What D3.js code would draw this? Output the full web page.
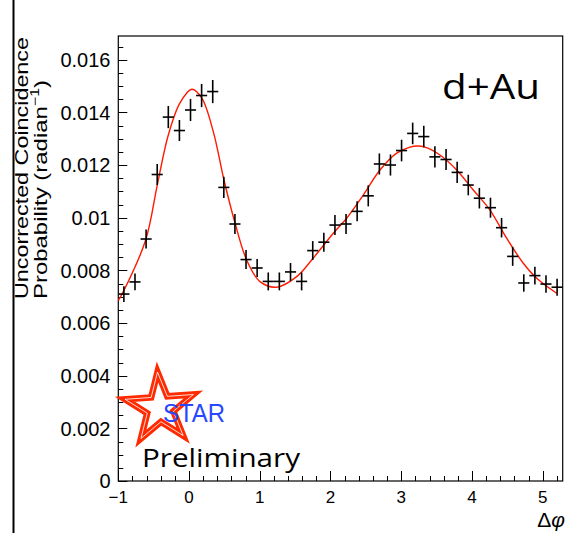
<!DOCTYPE html>
<html><head><meta charset="utf-8">
<script src="https://cdn.jsdelivr.net/npm/d3@7"></script>
<style>
html,body{margin:0;padding:0;background:#fff;}
svg{display:block;}
</style></head>
<body>
<svg id="chart" width="568" height="533"></svg>
<script>
// ---- data ----
const dphi = [-0.921,-0.764,-0.607,-0.450,-0.293,-0.136,0.021,0.178,0.335,0.492,
  0.649,0.806,0.963,1.120,1.277,1.435,1.592,1.749,1.906,2.063,
  2.220,2.377,2.534,2.691,2.848,3.005,3.162,3.319,3.476,3.634,
  3.791,3.948,4.105,4.262,4.419,4.576,4.733,4.890,5.047,5.204];
const prob = [0.00710,0.00756,0.00919,0.01164,0.01382,0.01331,0.01409,0.01464,0.01479,0.01115,
  0.00976,0.00841,0.00809,0.00758,0.00758,0.00794,0.00758,0.00875,0.00907,0.00972,
  0.00976,0.01024,0.01083,0.01204,0.01200,0.01255,0.01320,0.01308,0.01231,0.01221,
  0.01172,0.01124,0.01074,0.01038,0.00962,0.00853,0.00752,0.00780,0.00748,0.00736];
const probErr = [0.00030,0.00032,0.00036,0.00040,0.00042,0.00040,0.00042,0.00044,0.00044,0.00040,
  0.00038,0.00036,0.00034,0.00034,0.00034,0.00034,0.00034,0.00036,0.00036,0.00038,
  0.00038,0.00038,0.00040,0.00040,0.00040,0.00041,0.00041,0.00041,0.00040,0.00040,
  0.00040,0.00039,0.00039,0.00038,0.00037,0.00036,0.00033,0.00034,0.00033,0.00032];
const binHalfWidth = 0.0785;
// fit curve
const fitX = [-1.0,-0.929,-0.613,-0.449,-0.293,-0.128,0.038,0.179,0.343,0.494,0.650,0.815,1.003,1.240,
  1.522,1.757,2.040,2.229,2.464,2.700,2.936,3.124,3.230,3.336,3.548,3.784,4.019,4.255,4.491,4.726,4.916,5.198];
const fitY = [0.00685,0.00719,0.00915,0.01124,0.01314,0.01436,0.01488,0.01455,0.01327,0.01143,0.00980,0.00839,0.00757,0.00736,
  0.00776,0.00847,0.00941,0.00998,0.01086,0.01181,0.01245,0.01268,0.01272,0.01268,0.01238,0.01181,0.01105,0.01029,0.00922,0.00827,0.00770,0.00713];
const xMajorTicks = [-1,0,1,2,3,4,5];
const xTickLabels = ["\u22121","0","1","2","3","4","5"];
const yMajorTicks = [0,0.002,0.004,0.006,0.008,0.010,0.012,0.014,0.016];
const yTickLabels = ["0","0.002","0.004","0.006","0.008","0.01","0.012","0.014","0.016"];

const svg = d3.select("#chart");
const X0 = 118.3, X1 = 562.7, Y0 = 481, Y1 = 36;
const x = d3.scaleLinear().domain([-1, 2*Math.PI - 1]).range([X0, X1]);
const y = d3.scaleLinear().domain([0, 0.0169]).range([Y0, Y1]);
const helv = "'Liberation Sans', Arial, Helvetica, sans-serif";
const cal = "'Open Sans', Lato, sans-serif";

// slide border line at left
svg.append("line").attr("x1",13.5).attr("x2",13.5).attr("y1",0).attr("y2",533)
  .attr("stroke","#000").attr("stroke-width",2);

// frame
svg.append("rect").attr("x",X0).attr("y",Y1).attr("width",X1-X0).attr("height",Y0-Y1)
  .attr("fill","none").attr("stroke","#000").attr("stroke-width",1.2);

// y axis ticks (inside)
const yMinor = d3.range(0, 0.0169, 0.0005);
svg.append("g").selectAll("line").data(yMinor).join("line")
  .attr("x1",X0).attr("x2",d => X0 + (Math.abs(d/0.002 - Math.round(d/0.002))<1e-6 ? 9 : 5))
  .attr("y1",d=>Math.round(y(d))+0.5).attr("y2",d=>Math.round(y(d))+0.5)
  .attr("stroke","#000").attr("stroke-width",1);
svg.append("g").selectAll("text").data(yMajorTicks).join("text")
  .attr("x",110.5).attr("y",d=>y(d)).attr("dy","0.36em")
  .attr("text-anchor","end").attr("font-family",helv).attr("font-size",20)
  .attr("fill","#000").text((d,i)=>yTickLabels[i]);

// x axis ticks (inside)
const xMinor = d3.range(-1, 5.3, 0.2);
svg.append("g").selectAll("line").data(xMinor).join("line")
  .attr("x1",d=>Math.round(x(d))+0.5).attr("x2",d=>Math.round(x(d))+0.5)
  .attr("y1",Y0).attr("y2",d => Y0 - (Math.abs(d - Math.round(d))<1e-6 ? 10 : 5))
  .attr("stroke","#000").attr("stroke-width",1);
svg.append("g").selectAll("text").data(xMajorTicks).join("text")
  .attr("x",d=>x(d)).attr("y",502.5)
  .attr("text-anchor","middle").attr("font-family",helv).attr("font-size",17)
  .attr("fill","#000").text((d,i)=>xTickLabels[i]);

// x axis title
const xt = svg.append("text").attr("x",565).attr("y",527).attr("text-anchor","end")
  .attr("font-family",helv).attr("font-size",21).attr("fill","#000");
xt.append("tspan").text("\u0394");
xt.append("tspan").attr("font-style","italic").text("\u03C6");

// y axis title (two lines, rotated)
svg.append("text").attr("transform","translate(28,299) rotate(-90)")
  .attr("font-family",helv).attr("font-size",18)
  .attr("textLength",262).attr("lengthAdjust","spacingAndGlyphs")
  .attr("fill","#000").text("Uncorrected Coincidence");
const yt2 = svg.append("text").attr("transform","translate(47,299) rotate(-90)")
  .attr("font-family",helv).attr("font-size",18)
  .attr("textLength",219).attr("lengthAdjust","spacingAndGlyphs").attr("fill","#000");
yt2.append("tspan").text("Probability (radian");
yt2.append("tspan").attr("font-size",12).attr("dy",-8).text("\u22121");
yt2.append("tspan").attr("dy",8).text(")");

// fit curve
const line = d3.line().x((d,i)=>x(fitX[i])).y((d,i)=>y(fitY[i])).curve(d3.curveCatmullRom.alpha(0.5));
svg.append("path").datum(fitX).attr("d",line)
  .attr("fill","none").attr("stroke","#ff1a00").attr("stroke-width",1.4);

// data crosses
const pts = svg.append("g").attr("stroke","#000").attr("stroke-width",1.6);
pts.selectAll("line.h").data(dphi).join("line").attr("class","h")
  .attr("x1",d=>x(d-binHalfWidth)).attr("x2",d=>x(d+binHalfWidth))
  .attr("y1",(d,i)=>y(prob[i])).attr("y2",(d,i)=>y(prob[i]));
pts.selectAll("line.v").data(dphi).join("line").attr("class","v")
  .attr("x1",d=>x(d)).attr("x2",d=>x(d))
  .attr("y1",(d,i)=>y(prob[i]-probErr[i])).attr("y2",(d,i)=>y(prob[i]+probErr[i]));

// d+Au label
svg.append("text").attr("x",442).attr("y",99).attr("font-family",cal)
  .attr("font-size",35).attr("textLength",98).attr("lengthAdjust","spacingAndGlyphs").attr("fill","#000").text("d+Au");

// STAR logo
const star = d3.symbol().type(d3.symbolStar).size(36*36/0.8908130915292852)();
svg.append("path").attr("d",star).attr("transform","translate(160,408) rotate(-4)")
  .attr("fill","none").attr("stroke","#ff2a00").attr("stroke-width",6.5).attr("stroke-linejoin","miter");
svg.append("path").attr("d",star).attr("transform","translate(160,408) rotate(-4)")
  .attr("fill","none").attr("stroke","#fff").attr("stroke-width",0.8);
svg.append("text").attr("x",163).attr("y",421.5).attr("font-family",helv)
  .attr("font-size",25).attr("textLength",62).attr("lengthAdjust","spacingAndGlyphs")
  .attr("fill","#2848ff").text("STAR");
svg.append("text").attr("x",142).attr("y",467).attr("font-family",cal)
  .attr("font-size",26).attr("textLength",158).attr("lengthAdjust","spacingAndGlyphs").attr("fill","#000").text("Preliminary");
</script>
</body></html>
